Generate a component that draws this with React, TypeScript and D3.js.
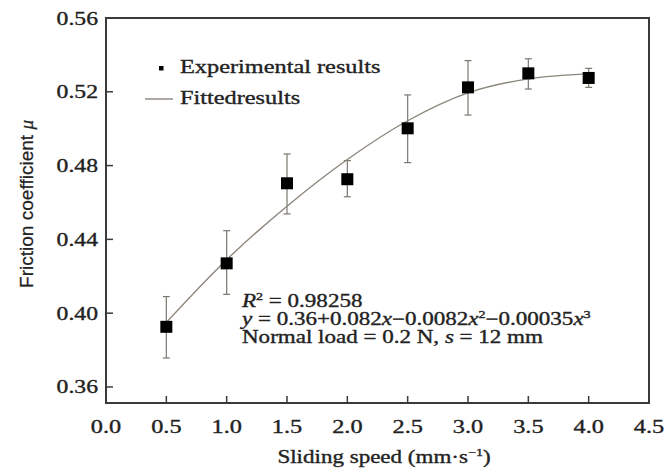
import React from 'react';
import * as d3 from 'd3';

// measured points (sliding speed vs friction coefficient)
const speeds = [0.5, 1.0, 1.5, 2.0, 2.5, 3.0, 3.5, 4.0];
const mu = [0.3926, 0.427, 0.4704, 0.4726, 0.5002, 0.5224, 0.53, 0.5275];
const muHigh = [0.409, 0.4447, 0.4863, 0.4827, 0.5183, 0.5369, 0.5379, 0.5327];
const muLow = [0.3757, 0.4102, 0.4538, 0.4631, 0.4816, 0.5074, 0.5215, 0.5224];

// fitted curve
const fitSpeeds = [0.5, 1.0, 1.5, 2.0, 2.5, 3.0, 3.5, 4.0];
const fitMu = [0.395, 0.429, 0.458, 0.4833, 0.5043, 0.5194, 0.527, 0.5297];

const xTicks = [0.0, 0.5, 1.0, 1.5, 2.0, 2.5, 3.0, 3.5, 4.0, 4.5];
const yTicks = [0.36, 0.40, 0.44, 0.48, 0.52, 0.56];

const SX = 1.28; // the picture is stretched sideways
const serif = '"Liberation Serif", "Times New Roman", serif';
const sans = '"Liberation Sans", Arial, sans-serif';
const ink = '#222';

const x = d3.scaleLinear().domain([0, 4.5]).range([106, 649]);
const y = d3.scaleLinear().domain([0.3513, 0.56]).range([403, 18]);

function T({ x: tx, y: ty, anchor = 'start', size = 18, family = serif, children }: any) {
  return (
    <text transform={`translate(${tx},${ty}) scale(${SX},1)`} textAnchor={anchor}
          fontSize={size} fontFamily={family} fill={ink} stroke={ink} strokeWidth={0.35}>
      {children}
    </text>
  );
}

export default function App() {
  const fit = fitSpeeds.map((s, i) => [s, fitMu[i]] as [number, number]);
  const line = d3.line<[number, number]>()
                 .x(d => x(d[0]))
                 .y(d => y(d[1]))
                 .curve(d3.curveCatmullRom);

  const [x0, x1] = x.range();
  const [y0, y1] = y.range();
  const tick = 7;
  const sq = 12;

  return (
    <svg width={665} height={473} style={{ position: 'absolute', left: 0, top: 0 }}>
      <rect width={665} height={473} fill="#fff" />

      {/* error bars */}
      {speeds.map((s, i) => (
        <g key={`e${i}`} stroke="#7a776f" strokeWidth={1.2}>
          <line x1={x(s)} x2={x(s)} y1={y(muHigh[i])} y2={y(muLow[i])} />
          <line x1={x(s) - 3.5} x2={x(s) + 3.5} y1={y(muHigh[i])} y2={y(muHigh[i])} />
          <line x1={x(s) - 3.5} x2={x(s) + 3.5} y1={y(muLow[i])} y2={y(muLow[i])} />
        </g>
      ))}

      <path d={line(fit) || ''} fill="none" stroke="#8c867b" strokeWidth={1.4} />

      {speeds.map((s, i) => (
        <rect key={`p${i}`} x={x(s) - sq / 2} y={y(mu[i]) - sq / 2} width={sq} height={sq} fill="#000" />
      ))}

      {/* frame and inward ticks */}
      <rect x={x0} y={y1} width={x1 - x0} height={y0 - y1} fill="none" stroke="#3a3a3a" strokeWidth={2} />
      {yTicks.map(t => (
        <g key={`y${t}`}>
          <line x1={x0} x2={x0 + tick} y1={y(t)} y2={y(t)} stroke="#3a3a3a" strokeWidth={1.5} />
          <T x={x0 - 8} y={y(t) + 6.5} anchor="end" size={18.5}>{t.toFixed(2)}</T>
        </g>
      ))}
      {xTicks.map(t => (
        <g key={`x${t}`}>
          <line x1={x(t)} x2={x(t)} y1={y0} y2={y0 - tick} stroke="#3a3a3a" strokeWidth={1.5} />
          <T x={x(t)} y={433} anchor="middle" size={19}>{t.toFixed(1)}</T>
        </g>
      ))}

      {/* axis titles */}
      <T x={384} y={463} anchor="middle" size={18}>
        Sliding speed (mm·s<tspan fontSize={11} dy={-7}>−1</tspan><tspan dy={7}>)</tspan>
      </T>
      <text transform={`translate(33,204) scale(${SX},1) rotate(-90)`} textAnchor="middle"
            fontSize={15} fontFamily={sans} fill={ink} stroke={ink} strokeWidth={0.2}
            textLength={168} lengthAdjust="spacingAndGlyphs">
        Friction coefficient <tspan fontFamily={serif} fontStyle="italic">μ</tspan>
      </text>

      {/* legend */}
      <rect x={159} y={66} width={4.5} height={4.5} fill="#000" />
      <T x={180} y={73} size={19}>Experimental results</T>
      <line x1={145} x2={173} y1={99} y2={99} stroke="#8c867b" strokeWidth={1.4} />
      <T x={180} y={104} size={19}>Fittedresults</T>

      {/* fit annotation */}
      <T x={242} y={307} size={18}>
        <tspan fontStyle="italic">R</tspan><tspan fontSize={11} dy={-7}>2</tspan><tspan dy={7}> = 0.98258</tspan>
      </T>
      <T x={242} y={325} size={18}>
        <tspan fontStyle="italic">y</tspan> = 0.36+0.082<tspan fontStyle="italic">x</tspan>−0.0082<tspan fontStyle="italic">x</tspan><tspan fontSize={11} dy={-7}>2</tspan><tspan dy={7}>−0.00035</tspan><tspan fontStyle="italic">x</tspan><tspan fontSize={11} dy={-7}>3</tspan>
      </T>
      <T x={242} y={343} size={18}>
        Normal load = 0.2 N, <tspan fontStyle="italic">s</tspan> = 12 mm
      </T>
    </svg>
  );
}
